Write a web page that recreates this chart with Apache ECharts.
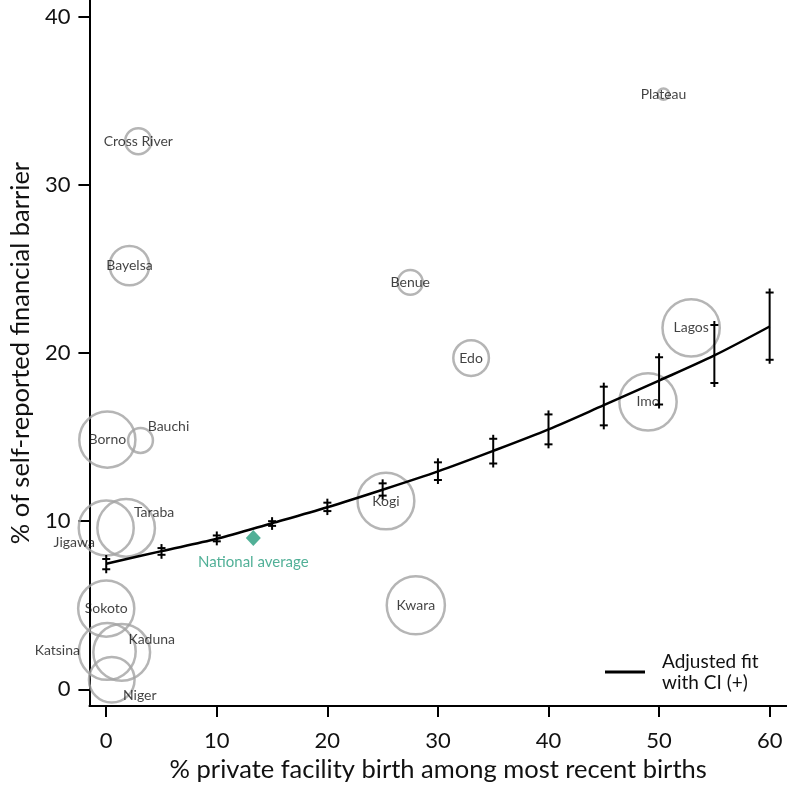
<!DOCTYPE html>
<html>
<head>
<meta charset="utf-8">
<script src="https://cdn.jsdelivr.net/npm/echarts@6/dist/echarts.min.js"></script>
<style>
html,body{margin:0;padding:0;background:#fff;}
#chart{width:787px;height:788px;}
</style>
</head>
<body>
<div id="chart"></div>
<script>
// ---- Data ----
var states = ['Plateau','Cross River','Bayelsa','Benue','Edo','Kogi','Kwara','Lagos','Imo','Borno','Bauchi','Jigawa','Taraba','Sokoto','Katsina','Kaduna','Niger'];
var privateBirth = [50.4, 2.9, 2.1, 27.5, 33.0, 25.3, 28.0, 52.9, 49.0, 0.1, 3.1, 0.0, 1.8, 0.0, 0.1, 1.4, 0.5];
var financialBarrier = [35.4, 32.6, 25.2, 24.2, 19.7, 11.2, 5.0, 21.5, 17.1, 14.85, 14.8, 9.6, 9.6, 4.8, 2.25, 2.2, 0.57];
var bubbleWeight = [4, 21, 48, 19, 39, 99, 104, 101, 101, 97, 19, 93, 102, 97, 99, 99, 64];

var fitX = [0, 5, 10, 15, 20, 25, 30, 35, 40, 45, 50, 55, 60];
var fitY = [7.47, 8.22, 8.95, 9.88, 10.83, 11.87, 12.96, 14.18, 15.46, 16.9, 18.36, 19.86, 21.58];
var ciLow = [7.14, 8.0, 8.8, 9.72, 10.6, 11.52, 12.45, 13.43, 14.57, 15.7, 16.94, 18.22, 19.6];
var ciHigh = [7.75, 8.4, 9.15, 10.0, 11.1, 12.25, 13.5, 14.9, 16.35, 18.0, 19.75, 21.67, 23.6];

var nationalX = [13.3];
var nationalY = [9.0];

var xTicks = [0, 10, 20, 30, 40, 50, 60];
var yTicks = [0, 10, 20, 30, 40];

// label placement (pixel offsets from bubble centre), presentation only
var labelOffsets = {
  'Bauchi': [28, -14], 'Jigawa': [-32, 15], 'Taraba': [28, -15],
  'Katsina': [-50, -1], 'Kaduna': [30, -13], 'Niger': [28, 16]
};

var FONT = 'Lato, "Liberation Sans", sans-serif';

var bubbleData = states.map(function (s, i) {
  return { name: s, value: [privateBirth[i], financialBarrier[i], bubbleWeight[i]] };
});
var fitData = fitX.map(function (x, i) { return [x, fitY[i]]; });
var ciData = fitX.map(function (x, i) { return [x, ciLow[i], ciHigh[i]]; });
var natData = nationalX.map(function (x, i) { return [x, nationalY[i]]; });

var chart = echarts.init(document.getElementById('chart'), null, { renderer: 'canvas' });
chart.setOption({
  animation: false,
  backgroundColor: '#fff',
  grid: { left: 82, right: 0, top: 0, bottom: 78, containLabel: false },
  legend: {
    data: ['Adjusted fit with CI (+)'],
    left: 600, top: 646,
    icon: 'rect', itemWidth: 40, itemHeight: 3,
    formatter: function () { return 'Adjusted fit\nwith CI (+)'; },
    textStyle: { fontFamily: FONT, fontSize: 19, lineHeight: 21, color: '#111', padding: [0, 0, 0, 12] }
  },
  xAxis: {
    type: 'value', min: -1.52, max: 61.57,
    name: '% private facility birth among most recent births',
    nameLocation: 'middle', nameGap: 48,
    nameTextStyle: { fontFamily: FONT, fontSize: 25.5, color: '#111' },
    axisLine: { show: true, onZero: false, lineStyle: { color: '#000', width: 2 } },
    axisTick: { show: true, length: 11, lineStyle: { color: '#000', width: 2 }, customValues: xTicks },
    axisLabel: { fontFamily: FONT, fontSize: 22, color: '#111', margin: 24, customValues: xTicks },
    splitLine: { show: false }
  },
  yAxis: {
    type: 'value', min: -1, max: 41,
    name: '% of self-reported financial barrier',
    nameLocation: 'middle', nameGap: 55,
    nameTextStyle: { fontFamily: FONT, fontSize: 25.5, color: '#111' },
    axisLine: { show: true, onZero: false, lineStyle: { color: '#000', width: 2 } },
    axisTick: { show: true, length: 11, lineStyle: { color: '#000', width: 2 }, customValues: yTicks },
    axisLabel: { fontFamily: FONT, fontSize: 22, color: '#111', margin: 19, customValues: yTicks },
    splitLine: { show: false }
  },
  series: [
    {
      name: 'States', type: 'scatter', z: 1,
      data: bubbleData,
      symbol: 'circle',
      symbolSize: function (v) { return 5.7 * Math.sqrt(v[2]); },
      itemStyle: { color: 'rgba(0,0,0,0)', borderColor: '#a3a3a3', borderWidth: 2.5 },
      label: {
        show: true, position: 'inside', formatter: '{b}',
        fontFamily: FONT, fontSize: 14, color: '#111'
      },
      labelLayout: function (params) {
        var off = labelOffsets[states[params.dataIndex]] || [0, 0];
        return { dx: off[0], dy: off[1], hideOverlap: false };
      },
      emphasis: { disabled: true }
    },
    {
      name: 'Adjusted fit with CI (+)', type: 'line', z: 3,
      data: fitData, symbol: 'none', smooth: 0.3,
      lineStyle: { color: '#000', width: 2.5 }, itemStyle: { color: '#000' }
    },
    {
      name: 'CI', type: 'custom', z: 4,
      data: ciData,
      renderItem: function (params, api) {
        var x = api.value(0);
        var lo = api.coord([x, api.value(1)]);
        var hi = api.coord([x, api.value(2)]);
        var s = { stroke: '#000', lineWidth: 2 };
        return {
          type: 'group',
          children: [
            { type: 'line', shape: { x1: hi[0], y1: hi[1] - 4, x2: lo[0], y2: lo[1] + 4 }, style: s },
            { type: 'line', shape: { x1: hi[0] - 4, y1: hi[1], x2: hi[0] + 4, y2: hi[1] }, style: s },
            { type: 'line', shape: { x1: lo[0] - 4, y1: lo[1], x2: lo[0] + 4, y2: lo[1] }, style: s }
          ]
        };
      }
    },
    {
      name: 'National average', type: 'scatter', z: 5,
      data: natData, symbol: 'diamond', symbolSize: [15, 16],
      itemStyle: { color: '#259c7d' },
      label: {
        show: true, position: 'bottom', distance: 9,
        formatter: 'National average',
        fontFamily: FONT, fontSize: 15, color: '#259c7d'
      },
      emphasis: { disabled: true }
    }
  ]
});
</script>
</body>
</html>
